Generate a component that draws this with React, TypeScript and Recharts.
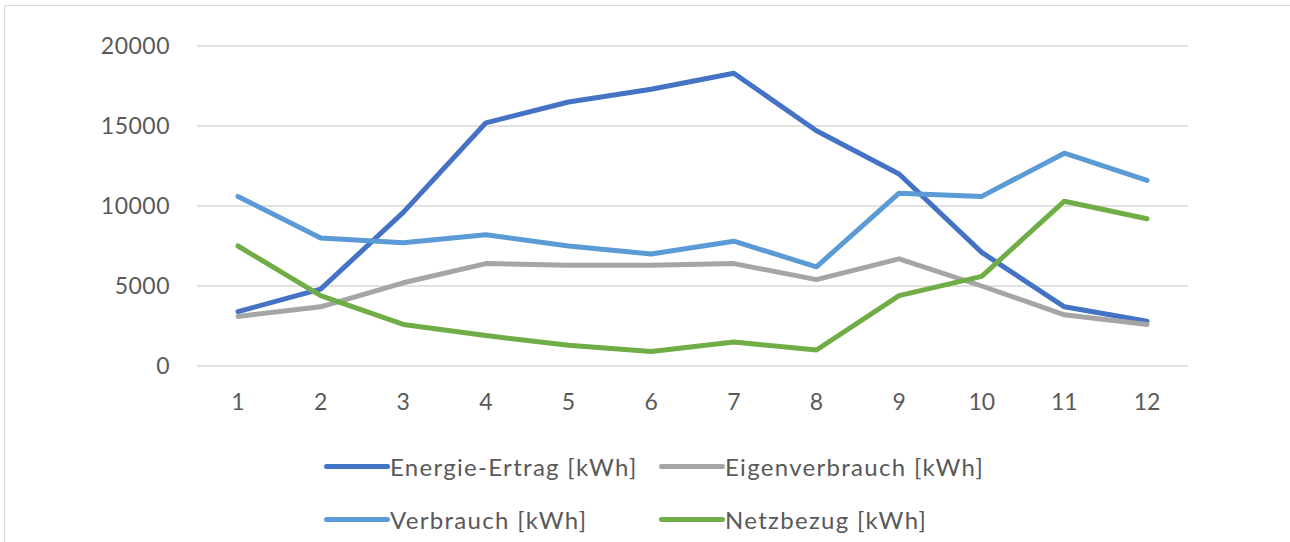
import * as React from "react"
import { CartesianGrid, Line, LineChart, XAxis, YAxis } from "recharts"

const months = ["1", "2", "3", "4", "5", "6", "7", "8", "9", "10", "11", "12"]
const ertrag = [3400, 4800, 9600, 15200, 16500, 17300, 18300, 14700, 12000, 7100, 3700, 2800]
const eigenverbrauch = [3100, 3700, 5200, 6400, 6300, 6300, 6400, 5400, 6700, 5000, 3200, 2600]
const verbrauch = [10600, 8000, 7700, 8200, 7500, 7000, 7800, 6200, 10800, 10600, 13300, 11600]
const netzbezug = [7500, 4400, 2600, 1900, 1300, 900, 1500, 1000, 4400, 5600, 10300, 9200]
const yTicks = [0, 5000, 10000, 15000, 20000]

const series = [
    { key: "ertrag", name: "Energie-Ertrag [kWh]", color: "#4472C4" },
    { key: "eigen", name: "Eigenverbrauch [kWh]", color: "#A5A5A5" },
    { key: "verbrauch", name: "Verbrauch [kWh]", color: "#5B9BD5" },
    { key: "netz", name: "Netzbezug [kWh]", color: "#70AD47" },
]

const data = months.map((m, i) => ({
    month: m,
    ertrag: ertrag[i],
    eigen: eigenverbrauch[i],
    verbrauch: verbrauch[i],
    netz: netzbezug[i],
}))

const font = "Lato, 'Open Sans', sans-serif"
const textColor = "#595959"

// legend order: column 1 = Ertrag, Verbrauch; column 2 = Eigenverbrauch, Netzbezug
const legendPos = [
    { left: 324, top: 466 },
    { left: 659, top: 466 },
    { left: 324, top: 519 },
    { left: 659, top: 519 },
]

export default function App() {
    return (
        <div style={{ position: "fixed", left: 0, top: 0, width: 1290, height: 542, background: "#fff", overflow: "hidden" }}>
            <div
                style={{
                    position: "absolute",
                    left: 4,
                    top: 5,
                    width: 1290,
                    height: 542,
                    borderTop: "1px solid #d9d9d9",
                    borderLeft: "1px solid #d9d9d9",
                }}
            />
            <LineChart
                width={1290}
                height={542}
                data={data}
                margin={{ top: 46, right: 102, bottom: 136, left: 0 }}
                style={{ position: "absolute", left: 0, top: 0 }}
            >
                <CartesianGrid vertical={false} stroke="#d9d9d9" strokeWidth={1.3} />
                <XAxis
                    dataKey="month"
                    axisLine={false}
                    tickLine={false}
                    tickSize={0}
                    tickMargin={28}
                    height={40}
                    padding={{ left: 41, right: 41 }}
                    tick={{ fill: textColor, fontSize: 23, fontFamily: font }}
                />
                <YAxis
                    domain={[0, 20000]}
                    ticks={yTicks}
                    axisLine={false}
                    tickLine={false}
                    tickSize={0}
                    tickMargin={27}
                    width={197}
                    tick={{ fill: textColor, fontSize: 23, fontFamily: font, letterSpacing: 0.5 }}
                />
                {series.map((s) => (
                    <Line
                        key={s.key}
                        dataKey={s.key}
                        name={s.name}
                        stroke={s.color}
                        strokeWidth={5}
                        strokeLinecap="round"
                        strokeLinejoin="round"
                        dot={false}
                        activeDot={false}
                        isAnimationActive={false}
                    />
                ))}
            </LineChart>
            {series.map((s, i) => (
                <div
                    key={s.key}
                    style={{
                        position: "absolute",
                        left: legendPos[i].left,
                        top: legendPos[i].top - 15,
                        height: 30,
                        display: "flex",
                        alignItems: "center",
                        fontFamily: font,
                        fontSize: 24,
                        letterSpacing: 1.3,
                        color: textColor,
                        whiteSpace: "nowrap",
                    }}
                >
                    <span style={{ display: "inline-block", width: 66, height: 5, borderRadius: 3, background: s.color }} />
                    <span>{s.name}</span>
                </div>
            ))}
        </div>
    )
}
